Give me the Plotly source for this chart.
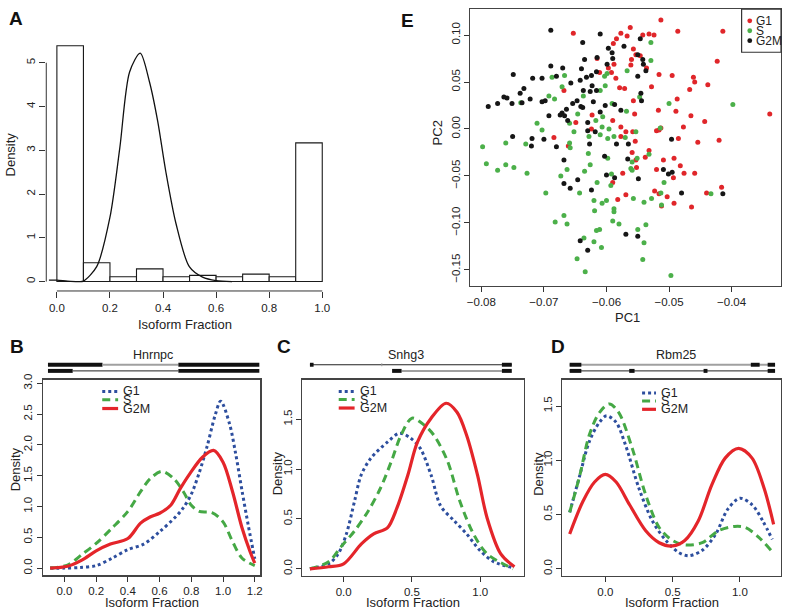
import plotly.graph_objects as go

W, H = 785, 613
FONT = "Liberation Sans, Arial, Helvetica, sans-serif"

# ---------------- Panel A data ----------------
hist_edges = [0.0, 0.1, 0.2, 0.3, 0.4, 0.5, 0.6, 0.7, 0.8, 0.9, 1.0]
hist_density = [5.39, 0.43, 0.11, 0.29, 0.11, 0.14, 0.11, 0.17, 0.11, 3.17]
a_kde_x = [-0.03, 0.0, 0.04, 0.08, 0.10, 0.15, 0.20, 0.237, 0.274, 0.314, 0.349, 0.38, 0.41, 0.449, 0.499, 0.549, 0.60, 0.66]
a_kde_y = [0.03, 0.03, 0.01, 0.0, 0.01, 0.34, 1.47, 3.05, 4.79, 5.22, 4.56, 3.66, 2.53, 1.32, 0.34, 0.10, 0.02, 0.0]
a_xticks = [0.0, 0.2, 0.4, 0.6, 0.8, 1.0]
a_yticks = [0, 1, 2, 3, 4, 5]

# ---------------- Panel E data (PCA) ----------------
g1_pc1 = [-0.0653, -0.0577, -0.0584, -0.0589, -0.0615, -0.0611, -0.0597, -0.0588, -0.0592, -0.0585,
          -0.0579, -0.0571, -0.0668, -0.0623, -0.0649, -0.0590, -0.0624, -0.0577, -0.0684, -0.0577,
          -0.0661, -0.0513, -0.0486, -0.0414, -0.0562, -0.0567, -0.0542, -0.0532, -0.0524, -0.0557,
          -0.0553, -0.0546, -0.0560, -0.0561, -0.0536, -0.0423, -0.0516, -0.0495, -0.0461, -0.0459,
          -0.0438, -0.0467, -0.0528, -0.0557, -0.0517, -0.0487, -0.0489, -0.0555, -0.0465, -0.0443,
          -0.0339, -0.0477, -0.0520, -0.0516, -0.0513, -0.0569, -0.0558, -0.0554, -0.0485, -0.0454,
          -0.0420, -0.0559, -0.0532, -0.0538, -0.0553, -0.0552, -0.0574, -0.0509, -0.0492, -0.0520,
          -0.0482, -0.0476, -0.0459, -0.0493, -0.0590, -0.0582, -0.0569, -0.0523, -0.0516, -0.0503,
          -0.0492, -0.0512, -0.0464, -0.0440, -0.0416]
g1_pc2 = [0.102, 0.102, 0.096, 0.091, 0.075, 0.060, 0.065, 0.069, 0.060, 0.054,
          0.044, 0.043, 0.041, 0.015, 0.007, 0.009, 0.000, 0.002, -0.009, -0.008,
          -0.018, 0.116, 0.104, 0.104, 0.108, 0.099, 0.100, 0.101, 0.100, 0.085,
          0.079, 0.078, 0.074, 0.068, 0.065, 0.072, 0.058, 0.057, 0.055, 0.050,
          0.047, 0.042, 0.045, 0.030, 0.020, 0.032, 0.019, 0.016, 0.014, 0.008,
          0.016, 0.002, -0.002, -0.001, 0.001, -0.003, -0.003, -0.013, -0.010, -0.014,
          -0.012, -0.025, -0.023, -0.030, -0.033, -0.041, -0.047, -0.033, -0.031, -0.043,
          -0.039, -0.047, -0.047, -0.052, -0.057, -0.075, -0.070, -0.066, -0.069, -0.072,
          -0.079, -0.082, -0.083, -0.068, -0.062]

s_pc1 = [-0.0667, -0.0687, -0.0599, -0.0603, -0.0671, -0.0692, -0.0683, -0.0737, -0.0637, -0.0610,
         -0.0602, -0.0591, -0.0646, -0.0659, -0.0711, -0.0703, -0.0652, -0.0628, -0.0617, -0.0606,
         -0.0607, -0.0596, -0.0610, -0.0598, -0.0588, -0.0761, -0.0729, -0.0798, -0.0659, -0.0658,
         -0.0568, -0.0567, -0.0529, -0.0529, -0.0547, -0.0500, -0.0398, -0.0514, -0.0553, -0.0570,
         -0.0629, -0.0598, -0.0626, -0.0635, -0.0663, -0.0673, -0.0792, -0.0774, -0.0761, -0.0748,
         -0.0727, -0.0592, -0.0593, -0.0615, -0.0643, -0.0697, -0.0620, -0.0619, -0.0607, -0.0600,
         -0.0588, -0.0588, -0.0590, -0.0580, -0.0668, -0.0682, -0.0663, -0.0616, -0.0611, -0.0636,
         -0.0620, -0.0608, -0.0647, -0.0634, -0.0551, -0.0559, -0.0561, -0.0559, -0.0532, -0.0508,
         -0.0513, -0.0528, -0.0557, -0.0540, -0.0512, -0.0433, -0.0537, -0.0550, -0.0540, -0.0542,
         -0.0497]
s_pc2 = [0.057, 0.055, 0.059, 0.056, 0.045, 0.035, 0.032, 0.028, 0.035, 0.041,
         0.046, 0.027, 0.016, 0.006, 0.006, -0.001, -0.003, -0.008, 0.009, 0.013,
         0.002, 0.000, -0.006, -0.010, -0.008, -0.015, -0.016, -0.019, -0.015, -0.020,
         0.019, 0.062, 0.092, 0.073, 0.034, 0.027, 0.026, 0.001, -0.003, -0.009,
         -0.026, -0.031, -0.038, -0.045, -0.043, -0.050, -0.037, -0.044, -0.038, -0.041,
         -0.047, -0.048, -0.060, -0.057, -0.068, -0.068, -0.076, -0.087, -0.079, -0.076,
         -0.085, -0.088, -0.098, -0.101, -0.092, -0.099, -0.101, -0.108, -0.107, -0.116,
         -0.120, -0.126, -0.138, -0.152, -0.031, -0.035, -0.042, -0.044, -0.027, -0.057,
         -0.068, -0.074, -0.074, -0.078, -0.081, -0.069, -0.102, -0.107, -0.121, -0.139,
         -0.156]

g2m_pc1 = [-0.0689, -0.0610, -0.0638, -0.0597, -0.0591, -0.0635, -0.0615, -0.0590, -0.0599, -0.0689,
           -0.0670, -0.0640, -0.0616, -0.0749, -0.0718, -0.0703, -0.0680, -0.0632, -0.0624, -0.0657,
           -0.0642, -0.0732, -0.0738, -0.0722, -0.0764, -0.0759, -0.0774, -0.0789, -0.0751, -0.0735,
           -0.0703, -0.0698, -0.0637, -0.0623, -0.0616, -0.0626, -0.0647, -0.0654, -0.0641, -0.0638,
           -0.0621, -0.0602, -0.0587, -0.0577, -0.0664, -0.0671, -0.0674, -0.0667, -0.0692, -0.0662,
           -0.0630, -0.0610, -0.0630, -0.0618, -0.0750, -0.0719, -0.0700, -0.0627, -0.0584, -0.0680,
           -0.0720, -0.0546, -0.0572, -0.0550, -0.0542, -0.0541, -0.0537, -0.0550, -0.0545, -0.0544,
           -0.0496, -0.0565, -0.0668, -0.0603, -0.0566, -0.0600, -0.0587, -0.0646, -0.0668, -0.0658,
           -0.0624, -0.0509, -0.0501, -0.0495, -0.0549, -0.0480, -0.0414, -0.0569, -0.0550, -0.0642,
           -0.0630]
g2m_pc2 = [0.105, 0.101, 0.092, 0.086, 0.081, 0.074, 0.076, 0.075, 0.069, 0.067,
           0.065, 0.064, 0.061, 0.058, 0.054, 0.054, 0.056, 0.055, 0.057, 0.049,
           0.052, 0.043, 0.038, 0.032, 0.034, 0.033, 0.027, 0.024, 0.027, 0.028,
           0.029, 0.030, 0.041, 0.046, 0.041, 0.040, 0.030, 0.027, 0.024, 0.023,
           0.029, 0.025, 0.026, 0.020, 0.021, 0.017, 0.015, 0.014, 0.014, 0.009,
           0.007, 0.018, -0.002, -0.003, -0.008, -0.010, -0.011, -0.016, -0.016, -0.019,
           -0.018, 0.096, 0.088, 0.079, 0.074, 0.069, 0.062, 0.056, 0.038, 0.030,
           -0.011, -0.016, -0.033, -0.029, -0.032, -0.049, -0.052, -0.054, -0.058, -0.063,
           -0.065, -0.043, -0.048, -0.046, -0.053, -0.068, -0.069, -0.112, -0.114, -0.119,
           -0.129]
e_xticks = [-0.08, -0.07, -0.06, -0.05, -0.04]
e_yticks = [-0.15, -0.10, -0.05, 0.00, 0.05, 0.10]

# ---------------- Panel B (Hnrnpc) ----------------
b_g1_x = [-0.09, 0.0, 0.1, 0.2, 0.3, 0.4, 0.5, 0.6, 0.7, 0.75, 0.8, 0.85, 0.9, 0.95, 0.985, 1.04, 1.08, 1.12, 1.16, 1.2]
b_g1_y = [0.0, 0.0, 0.01, 0.04, 0.16, 0.3, 0.39, 0.59, 0.83, 0.98, 1.2, 1.55, 1.98, 2.48, 2.71, 2.35, 1.85, 1.25, 0.68, 0.15]
b_s_x = [-0.09, 0.02, 0.11, 0.2, 0.3, 0.4, 0.48, 0.54, 0.615, 0.69, 0.75, 0.8, 0.85, 0.93, 1.0, 1.06, 1.12, 1.2]
b_s_y = [0.0, 0.05, 0.22, 0.4, 0.65, 0.92, 1.24, 1.45, 1.57, 1.45, 1.24, 1.02, 0.92, 0.9, 0.75, 0.43, 0.16, 0.04]
b_g2m_x = [-0.09, 0.02, 0.11, 0.2, 0.29, 0.4, 0.48, 0.54, 0.6, 0.67, 0.73, 0.79, 0.87, 0.94, 1.0, 1.06, 1.12, 1.17, 1.2]
b_g2m_y = [0.0, 0.03, 0.13, 0.28, 0.39, 0.48, 0.73, 0.83, 0.89, 1.02, 1.29, 1.53, 1.8, 1.91, 1.72, 1.24, 0.65, 0.27, 0.08]
b_xticks = [0.0, 0.2, 0.4, 0.6, 0.8, 1.0, 1.2]
b_yticks = [0.0, 0.5, 1.0, 1.5, 2.0, 2.5, 3.0]

# ---------------- Panel C (Snhg3) ----------------
c_g1_x = [-0.247, -0.11, -0.04, 0.02, 0.08, 0.128, 0.2, 0.32, 0.41, 0.49, 0.56, 0.64, 0.71, 0.81, 0.9, 1.0, 1.1, 1.24]
c_g1_y = [0.0, 0.05, 0.15, 0.35, 0.68, 0.94, 1.11, 1.27, 1.36, 1.31, 1.21, 0.94, 0.63, 0.48, 0.35, 0.18, 0.07, 0.01]
c_s_x = [-0.247, -0.11, -0.02, 0.08, 0.18, 0.27, 0.35, 0.42, 0.5, 0.59, 0.66, 0.76, 0.85, 0.95, 1.05, 1.24]
c_s_y = [0.0, 0.07, 0.22, 0.38, 0.58, 0.81, 1.08, 1.34, 1.51, 1.44, 1.34, 1.08, 0.68, 0.35, 0.15, 0.0]
c_g2m_x = [-0.247, -0.11, 0.0, 0.13, 0.22, 0.32, 0.39, 0.47, 0.54, 0.64, 0.75, 0.83, 0.9, 0.98, 1.05, 1.15, 1.25]
c_g2m_y = [0.0, 0.02, 0.05, 0.25, 0.35, 0.41, 0.61, 0.94, 1.27, 1.51, 1.66, 1.57, 1.34, 0.94, 0.51, 0.15, 0.02]
c_xticks = [0.0, 0.5, 1.0]
c_yticks = [0.0, 0.5, 1.0, 1.5]

# ---------------- Panel D (Rbm25) ----------------
d_g1_x = [-0.265, -0.19, -0.12, -0.044, 0.01, 0.08, 0.15, 0.25, 0.35, 0.45, 0.545, 0.62, 0.72, 0.82, 0.91, 1.0, 1.09, 1.17, 1.24]
d_g1_y = [0.52, 0.86, 1.17, 1.35, 1.41, 1.35, 1.14, 0.74, 0.44, 0.26, 0.15, 0.12, 0.17, 0.32, 0.55, 0.65, 0.59, 0.44, 0.27]
d_s_x = [-0.265, -0.19, -0.12, -0.044, 0.03, 0.1, 0.2, 0.3, 0.4, 0.5, 0.59, 0.72, 0.84, 0.96, 1.04, 1.14, 1.23]
d_s_y = [0.52, 0.86, 1.23, 1.44, 1.52, 1.44, 1.11, 0.68, 0.38, 0.26, 0.22, 0.24, 0.35, 0.39, 0.38, 0.29, 0.17]
d_g2m_x = [-0.265, -0.167, -0.08, 0.0, 0.08, 0.18, 0.3, 0.4, 0.5, 0.59, 0.69, 0.79, 0.89, 0.99, 1.09, 1.18, 1.25]
d_g2m_y = [0.32, 0.62, 0.8, 0.87, 0.8, 0.59, 0.35, 0.24, 0.21, 0.26, 0.44, 0.77, 1.02, 1.11, 1.02, 0.74, 0.41]
d_xticks = [0.0, 0.5, 1.0]
d_yticks = [0.0, 0.5, 1.0, 1.5]

phases = ["G1", "S", "G2M"]

# gene models: segments on normalised gene coordinate (kind, start, end)
gene_names = ["Hnrnpc", "Snhg3", "Rbm25"]
gene_top = [
    [("thick", 0.0, 0.258), ("gray", 0.258, 0.617), ("thick", 0.617, 1.0)],
    [("thin", 0.0, 1.0), ("thick", 0.0, 0.018), ("mark", 0.356, 0.356), ("thick", 0.951, 1.0)],
    [("gray", 0.0, 1.0), ("thick", 0.0, 0.057), ("thick", 0.882, 0.925), ("thick", 0.964, 1.0)],
]
gene_bottom = [
    [("thin", 0.117, 0.617), ("thick", 0.0, 0.117), ("thick", 0.617, 1.0)],
    [("gray", 0.454, 0.951), ("thick", 0.407, 0.454), ("thick", 0.951, 1.0)],
    [("thin", 0.0, 1.0), ("thick", 0.0, 0.057), ("thick", 0.29, 0.316), ("thick", 0.652, 0.671), ("thick", 0.964, 1.0)],
]

# ---------------- styles ----------------
COL_BLUE = "#2D4E9E"
COL_GREEN = "#45A845"
COL_RED = "#E4252A"
PT_RED = "#E0262A"
PT_GREEN = "#4CB04A"
PT_BLACK = "#161616"
LINE_STYLE = {
    "G1": dict(color=COL_BLUE, width=3, dash="dot"),
    "S": dict(color=COL_GREEN, width=3, dash="8px,5px"),
    "G2M": dict(color=COL_RED, width=3.2, dash="solid"),
}


def px(x):
    return x / W


def py(y):
    return 1 - y / H


fig = go.Figure()

# ---------- Panel A ----------
centers = [(hist_edges[i] + hist_edges[i + 1]) / 2 for i in range(len(hist_density))]
fig.add_trace(go.Bar(x=centers, y=hist_density, width=0.1, xaxis="x", yaxis="y",
                     marker=dict(color="white", line=dict(color="#1a1a1a", width=1.1)),
                     showlegend=False, hoverinfo="skip"))
fig.add_trace(go.Scatter(x=a_kde_x, y=a_kde_y, mode="lines", xaxis="x", yaxis="y",
                         line=dict(color="#111", width=1.3, shape="spline", smoothing=0.8),
                         showlegend=False, hoverinfo="skip"))

# ---------- Panel E ----------
for xs, ys, col in [(g1_pc1, g1_pc2, PT_RED), (s_pc1, s_pc2, PT_GREEN), (g2m_pc1, g2m_pc2, PT_BLACK)]:
    fig.add_trace(go.Scatter(x=xs, y=ys, mode="markers", xaxis="x2", yaxis="y2",
                             marker=dict(color=col, size=5, line=dict(width=0)),
                             showlegend=False, hoverinfo="skip"))

# ---------- Panels B-D ----------
panel_curves = [
    ("x3", "y3", [(b_g1_x, b_g1_y), (b_s_x, b_s_y), (b_g2m_x, b_g2m_y)]),
    ("x4", "y4", [(c_g1_x, c_g1_y), (c_s_x, c_s_y), (c_g2m_x, c_g2m_y)]),
    ("x5", "y5", [(d_g1_x, d_g1_y), (d_s_x, d_s_y), (d_g2m_x, d_g2m_y)]),
]
for xa, ya, curves in panel_curves:
    for ph, (xs, ys) in zip(phases, curves):
        st = LINE_STYLE[ph]
        fig.add_trace(go.Scatter(x=xs, y=ys, mode="lines", xaxis=xa, yaxis=ya,
                                 line=dict(color=st["color"], width=st["width"], dash=st["dash"],
                                           shape="spline", smoothing=0.9),
                                 showlegend=False, hoverinfo="skip"))

tickfont = dict(family=FONT, size=11.5, color="#222")


def axis(dom, rng, tickvals, fmt, box, anchor, angle=0):
    d = dict(domain=dom, range=rng, tickvals=tickvals, tickformat=fmt, showgrid=False,
             zeroline=False, ticks="outside", ticklen=5, tickwidth=1, tickcolor="#333",
             tickfont=tickfont, anchor=anchor, tickangle=angle, fixedrange=True)
    if box:
        d.update(showline=True, mirror=True, linecolor="#444", linewidth=1.2)
    else:
        d.update(showline=False)
    return d


layout = dict(
    width=W, height=H, margin=dict(l=0, r=0, t=0, b=0),
    paper_bgcolor="white", plot_bgcolor="rgba(0,0,0,0)",
    font=dict(family=FONT, color="#222"), showlegend=False, bargap=0,
)
# A
layout["xaxis"] = axis([px(42.6), px(331.4)], [-0.04, 1.04], a_xticks, ".1f", False, "y")
layout["yaxis"] = axis([py(287.8), py(30.1)], [-0.216, 5.616], a_yticks, "d", False, "x", -90)
layout["xaxis"]["ticklen"] = 6
layout["yaxis"]["ticklen"] = 6
# E
layout["xaxis2"] = axis([px(470), px(783)], [-0.08175, -0.0321], e_xticks, ".2f", True, "y2")
layout["yaxis2"] = axis([py(282.7), py(3.3)], [-0.167, 0.1274], e_yticks, ".2f", True, "x2", -90)
# B
layout["xaxis3"] = axis([px(39.3), px(258.3)], [-0.135, 1.235], b_xticks, ".1f", True, "y3")
layout["yaxis3"] = axis([py(575), py(377.3)], [-0.118, 3.06], b_yticks, ".1f", True, "x3", -90)
# C
layout["xaxis4"] = axis([px(300.7), px(524)], [-0.302, 1.32], c_xticks, ".1f", True, "y4")
layout["yaxis4"] = axis([py(575.7), py(377.3)], [-0.073, 1.897], c_yticks, ".1f", True, "x4", -90)
# D
layout["xaxis5"] = axis([px(562.7), px(783)], [-0.319, 1.305], d_xticks, ".1f", True, "y5")
layout["yaxis5"] = axis([py(575.7), py(377.3)], [-0.0676, 1.744], d_yticks, ".1f", True, "x5", -90)

fig.update_layout(**layout)

shapes = []
annotations = []

# A axis lines (R style: from first to last tick)
shapes.append(dict(type="line", xref="x", yref="y domain", x0=a_xticks[0], x1=a_xticks[-1], y0=0, y1=0,
                   line=dict(color="#333", width=1)))
shapes.append(dict(type="line", xref="x domain", yref="y", x0=0, x1=0, y0=a_yticks[0], y1=a_yticks[-1],
                   line=dict(color="#333", width=1)))


def ann(text, x, y, size=12.5, angle=0, xanchor="center", bold=False, color="#222"):
    annotations.append(dict(text=("<b>%s</b>" % text) if bold else text, x=px(x), y=py(y),
                            xref="paper", yref="paper", showarrow=False, textangle=angle,
                            xanchor=xanchor, yanchor="middle",
                            font=dict(family=FONT, size=size, color=color)))


# panel letters
for lab, x, y in [("A", 12, 13), ("B", 13, 344), ("C", 282, 344), ("D", 558, 344), ("E", 407, 15)]:
    ann(lab, x, y, size=19, bold=True, color="#111")

# axis titles
ann("Density", 7, 150, angle=-90, size=13)
ann("Isoform Fraction", 182, 321.5, size=13)
ann("PC2", 437, 128, angle=-90, size=13)
ann("PC1", 628, 315, size=13)
for cx, dx, cy in [(148.8, 12, 468), (412.3, 275, 472), (672.8, 538.5, 472)]:
    ann("Density", dx, cy, angle=-90, size=13)
    ann("Isoform Fraction", cx, 602.5, size=13)

# legend of E
shapes.append(dict(type="rect", xref="paper", yref="paper", x0=px(743.3), x1=px(783), y0=py(46.7), y1=py(3.3),
                   line=dict(color="#333", width=1.2), fillcolor="white", layer="above"))
for i, (ph, col) in enumerate(zip(phases, [PT_RED, PT_GREEN, PT_BLACK])):
    yy = 15 + 10 * i
    shapes.append(dict(type="circle", xref="paper", yref="paper", xsizemode="pixel", ysizemode="pixel",
                       xanchor=px(751.5), yanchor=py(yy), x0=-2.4, x1=2.4, y0=-2.4, y1=2.4,
                       fillcolor=col, line=dict(width=0), layer="above"))
    ann(ph, 755.5, yy, size=12, xanchor="left")

# legends of B-D (tightly stacked, as in the original)
for lx0, lx1, tx, ys in [(99, 115, 118, [389.3, 397.7, 406.5]),
                         (337.3, 353.3, 356.7, [389.3, 397.5, 406]),
                         (643, 657, 660, [390.7, 398.9, 407.3])]:
    for ph, yy in zip(phases, ys):
        st = LINE_STYLE[ph]
        shapes.append(dict(type="line", xref="paper", yref="paper", x0=px(lx0), x1=px(lx1), y0=py(yy), y1=py(yy),
                           line=dict(color=st["color"], width=st["width"], dash=st["dash"])))
        ann(ph, tx, yy, size=12.5, xanchor="left")

# gene models above B-D
track_spans = [(44.3, 257.3, 150), (308.3, 511.7, 405), (570, 777, 676.7)]
Y_TOP, Y_BOT = 362.3, 368.5
for (x0, x1, cx), name, top, bot in zip(track_spans, gene_names, gene_top, gene_bottom):
    ann(name, cx, 352, size=12.5)
    for segs, yy in [(top, Y_TOP), (bot, Y_BOT)]:
        for kind, a, b in segs:
            xa = x0 + a * (x1 - x0)
            xb = x0 + b * (x1 - x0)
            if kind == "thick":
                shapes.append(dict(type="rect", xref="paper", yref="paper", x0=px(xa), x1=px(xb),
                                   y0=py(yy + 2.0), y1=py(yy - 2.0), fillcolor="#111", line=dict(width=0)))
            elif kind == "thin":
                shapes.append(dict(type="line", xref="paper", yref="paper", x0=px(xa), x1=px(xb),
                                   y0=py(yy), y1=py(yy), line=dict(color="#222", width=1)))
            elif kind == "gray":
                shapes.append(dict(type="line", xref="paper", yref="paper", x0=px(xa), x1=px(xb),
                                   y0=py(yy), y1=py(yy), line=dict(color="#a0a0a0", width=2)))
            elif kind == "mark":
                shapes.append(dict(type="line", xref="paper", yref="paper", x0=px(xa), x1=px(xa),
                                   y0=py(yy - 1.5), y1=py(yy + 1.5), line=dict(color="#999", width=1)))

fig.update_layout(shapes=shapes, annotations=annotations)
fig.write_html("out.html", config={"displayModeBar": False, "staticPlot": True},
               post_script="document.body.style.margin='0px';document.body.style.overflow='hidden';")
